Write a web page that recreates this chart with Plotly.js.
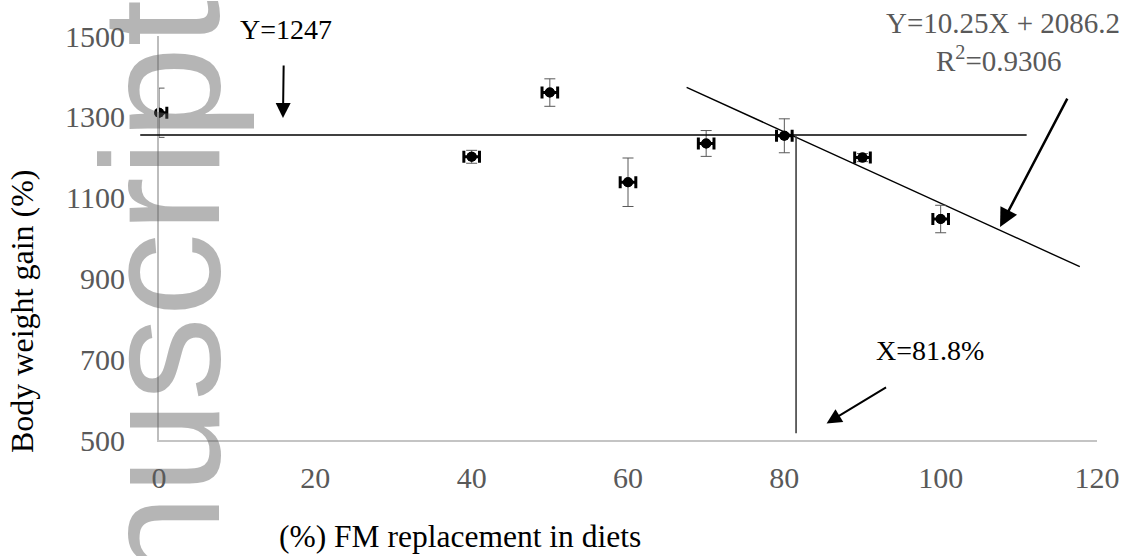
<!DOCTYPE html>
<html>
<head>
<meta charset="utf-8">
<script src="https://cdn.plot.ly/plotly-3.0.1.min.js"></script>
<style>html,body{margin:0;padding:0;background:#fff;} #chart{width:1131px;height:556px;}</style>
</head>
<body>
<div id="chart"></div>
<script>
// ---- data ----
const replacement = [0, 40, 50, 60, 70, 80, 90, 100];           // % FM replacement
const weightGain  = [1310, 1201, 1360, 1138, 1234, 1253, 1199, 1047];
const weightErr   = [61, 16, 34, 60, 32, 42, 10, 34];
const replErr     = [1, 1, 1, 1, 1, 1, 1, 1];

const plateauX = [-2.4, 111];      // horizontal plateau line (Y=1247 label)
const plateauY = [1255, 1255];
const trendX   = [67.5, 117.8];    // regression line
const trendY   = [1373, 929];
const breakX   = [81.5, 81.5];     // breakpoint line (X=81.8%)
const breakY   = [1252, 517];

const xTicks = [0, 20, 40, 60, 80, 100, 120];
const yTicks = [500, 700, 900, 1100, 1300, 1500];

// ---- layout geometry ----
const W = 1131, H = 556;
const mL = 140, mR = 34, mT = 36, mB = 116;
const plotW = W - mL - mR, plotH = H - mT - mB;
const d0 = 19 / plotW;                      // main x-axis starts a bit right of the paper edge
const x2min = 120 - 120 / (1 - d0);         // overlay axis with the same scale, reaching further left
const px = p => (p - mL) / plotW;
const py = p => (H - mB - p) / plotH;

const serif = 'Liberation Serif, Times New Roman, serif';
const gray = '#595959';

const traces = [
  { // plateau line on the wider overlay subplot
    x: plateauX, y: plateauY, xaxis: 'x2', yaxis: 'y2', mode: 'lines',
    line: {color: '#000', width: 1.6}, hoverinfo: 'skip', showlegend: false
  },
  {
    x: trendX, y: trendY, mode: 'lines',
    line: {color: '#000', width: 1.4}, hoverinfo: 'skip', showlegend: false
  },
  {
    x: breakX, y: breakY, mode: 'lines',
    line: {color: '#404040', width: 1.6}, hoverinfo: 'skip', showlegend: false
  },
  { // error bars (clipped to the plot)
    x: replacement, y: weightGain, mode: 'markers',
    marker: {color: '#000', size: 10},
    error_y: {type: 'data', array: weightErr, visible: true, color: gray, thickness: 1, width: 5.5},
    error_x: {type: 'data', array: replErr, visible: true, color: '#000', thickness: 3, width: 6},
    showlegend: false
  },
  { // markers drawn unclipped
    x: replacement, y: weightGain, mode: 'markers', cliponaxis: false,
    marker: {color: '#000', size: 10}, showlegend: false, hoverinfo: 'skip'
  }
];

const layout = {
  width: W, height: H,
  margin: {l: mL, r: mR, t: mT, b: mB},
  paper_bgcolor: '#fff', plot_bgcolor: 'rgba(0,0,0,0)',
  showlegend: false,
  xaxis: {
    domain: [d0, 1], range: [0, 120], tickvals: xTicks,
    showgrid: false, zeroline: false, showline: true, linecolor: '#c4c4c4', linewidth: 2,
    ticks: '', ticklabelstandoff: 10,
    tickfont: {family: serif, size: 30, color: gray}
  },
  yaxis: {
    range: [500, 1500], tickvals: yTicks,
    showgrid: false, zeroline: false, showline: true, linecolor: '#bdbdbd', linewidth: 2,
    ticks: '', ticklabelstandoff: 26,
    tickfont: {family: serif, size: 30, color: gray}
  },
  xaxis2: {domain: [0, 1], range: [x2min, 120], visible: false, anchor: 'y2'},
  yaxis2: {domain: [0, 1], range: [500, 1500], visible: false, anchor: 'x2'},
  annotations: [
    { // watermark
      text: 'Accepted Manuscript', xref: 'paper', yref: 'paper',
      x: px(160), y: py(-2), xanchor: 'center', yanchor: 'top', textangle: -90,
      showarrow: false, font: {family: 'Liberation Sans, Arial, sans-serif', size: 168, color: 'rgba(90,90,90,0.45)'}
    },
    {
      text: 'Body weight gain (%)', xref: 'paper', yref: 'paper', x: px(22), y: py(311),
      xanchor: 'center', yanchor: 'middle', textangle: -90, showarrow: false,
      font: {family: serif, size: 32, color: '#000'}
    },
    {
      text: '(%) FM replacement in diets', xref: 'paper', yref: 'paper', x: px(460), y: py(536),
      xanchor: 'center', yanchor: 'middle', showarrow: false,
      font: {family: serif, size: 31.5, color: '#000'}
    },
    {
      text: 'Y=1247', xref: 'paper', yref: 'paper', x: px(286), y: py(30),
      xanchor: 'center', yanchor: 'middle', showarrow: false,
      font: {family: serif, size: 28, color: '#000'}
    },
    {
      text: 'Y=10.25X + 2086.2', xref: 'paper', yref: 'paper', x: px(1003), y: py(23),
      xanchor: 'center', yanchor: 'middle', showarrow: false,
      font: {family: serif, size: 29, color: gray}
    },
    {
      text: 'R<sup>2</sup>=0.9306', xref: 'paper', yref: 'paper', x: px(999), y: py(59),
      xanchor: 'center', yanchor: 'middle', showarrow: false,
      font: {family: serif, size: 29, color: gray}
    },
    {
      text: 'X=81.8%', xref: 'paper', yref: 'paper', x: px(930), y: py(350),
      xanchor: 'center', yanchor: 'middle', showarrow: false,
      font: {family: serif, size: 28, color: '#000'}
    },
    // arrows
    {
      text: '', x: 15.86, y: 1297, xref: 'x', yref: 'y', ax: 0.7, ay: -54,
      showarrow: true, arrowhead: 2, arrowsize: 1.5, arrowwidth: 2, arrowcolor: '#000'
    },
    {
      text: '', x: 107.6, y: 1027, xref: 'x', yref: 'y', ax: 68, ay: -130,
      showarrow: true, arrowhead: 2, arrowsize: 1.5, arrowwidth: 2.5, arrowcolor: '#000'
    },
    {
      text: '', x: 85.4, y: 541, xref: 'x', yref: 'y', ax: 61, ay: -37,
      showarrow: true, arrowhead: 2, arrowsize: 1.5, arrowwidth: 2, arrowcolor: '#000'
    }
  ]
};

Plotly.newPlot('chart', traces, layout, {displayModeBar: false, staticPlot: true});
</script>
</body>
</html>
